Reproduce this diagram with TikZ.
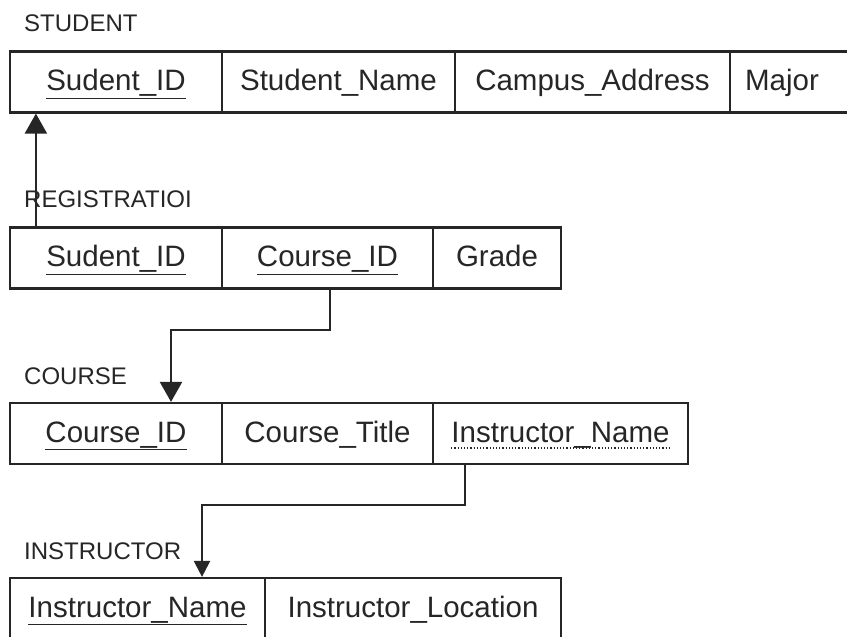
\documentclass[tikz,border=0pt]{standalone}
\usepackage{fontspec}
\setmainfont{Liberation Sans}
\usetikzlibrary{arrows.meta}
\definecolor{ink}{HTML}{262626}
\newcommand{\keyline}[1]{\underline{#1}}
\begin{document}
\begin{tikzpicture}[x=1pt,y=-1pt,
  cell/.style={draw=ink, line width=2.2pt, rectangle, inner sep=0pt, minimum height=61pt,
    text=ink, text height=21pt, text depth=4pt, font=\fontsize{29.5}{32}\selectfont},
  celltext/.style={text=ink, inner sep=0pt, text height=21pt, text depth=4pt, font=\fontsize{29.5}{32}\selectfont},
  tlabel/.style={anchor=base west, inner sep=0pt, text=ink, font=\fontsize{24}{28}\selectfont},
  fk/.style={draw=ink, line width=2.2pt},
  bighead/.style={-{Triangle[width=22pt,length=20pt]}},
  smallhead/.style={-{Triangle[width=16pt,length=16pt]}}
]
\clip (0,0) rectangle (847,637);
\fill[white] (0,0) rectangle (847,637);

% STUDENT
\node[tlabel] (lstudent) at (24,31) {STUDENT};
\node[cell, minimum width=212pt] (s1) at (116,82) {\keyline{Sudent\_ID}};
\node[cell, minimum width=233pt] (s2) at (338.5,82) {Student\_Name};
\node[cell, minimum width=275pt] (s3) at (592.5,82) {Campus\_Address};
\node[cell, minimum width=140pt] (s4) at (800,82) {};
\node[celltext] (s4t) at (782,82) {Major};

% REGISTRATION
\node[tlabel] (lreg) at (24,207) {REGISTRATIOI};
\node[cell, minimum width=212pt] (r1) at (116,258) {\keyline{Sudent\_ID}};
\node[cell, minimum width=211pt] (r2) at (327.5,258) {\keyline{Course\_ID}};
\node[cell, minimum width=128pt] (r3) at (497,258) {Grade};

% COURSE
\node[tlabel] (lcourse) at (24,384) {COURSE};
\node[cell, minimum width=212pt] (c1) at (116,433.5) {\keyline{Course\_ID}};
\node[cell, minimum width=211pt] (c2) at (327.5,433.5) {Course\_Title};
\node[cell, minimum width=255pt] (c3) at (560.5,433.5) {};
\node[celltext] (c3t) at (560.5,433.5) {Instructor\_Name};
\draw[ink, line width=1.2pt, dotted] ([yshift=-6pt]c3t.base west) -- ([yshift=-6pt]c3t.base east);

% INSTRUCTOR
\node[tlabel] (linstr) at (24,559) {INSTRUCTOR};
\node[cell, minimum width=255pt] (i1) at (137.5,608.5) {\keyline{Instructor\_Name}};
\node[cell, minimum width=296pt] (i2) at (413,608.5) {Instructor\_Location};

% connectors
\draw[fk, bighead] ([xshift=27pt]r1.north west) -- ([xshift=27pt]s1.south west);
\draw[fk, bighead] ([xshift=2.5pt]r2.south) -- ++(0,40) -| ([xshift=55pt]c1.north);
\draw[fk, smallhead] ([xshift=-95.5pt]c3.south) -- ++(0,39.5) -| ([xshift=64.5pt]i1.north);
\end{tikzpicture}
\end{document}
